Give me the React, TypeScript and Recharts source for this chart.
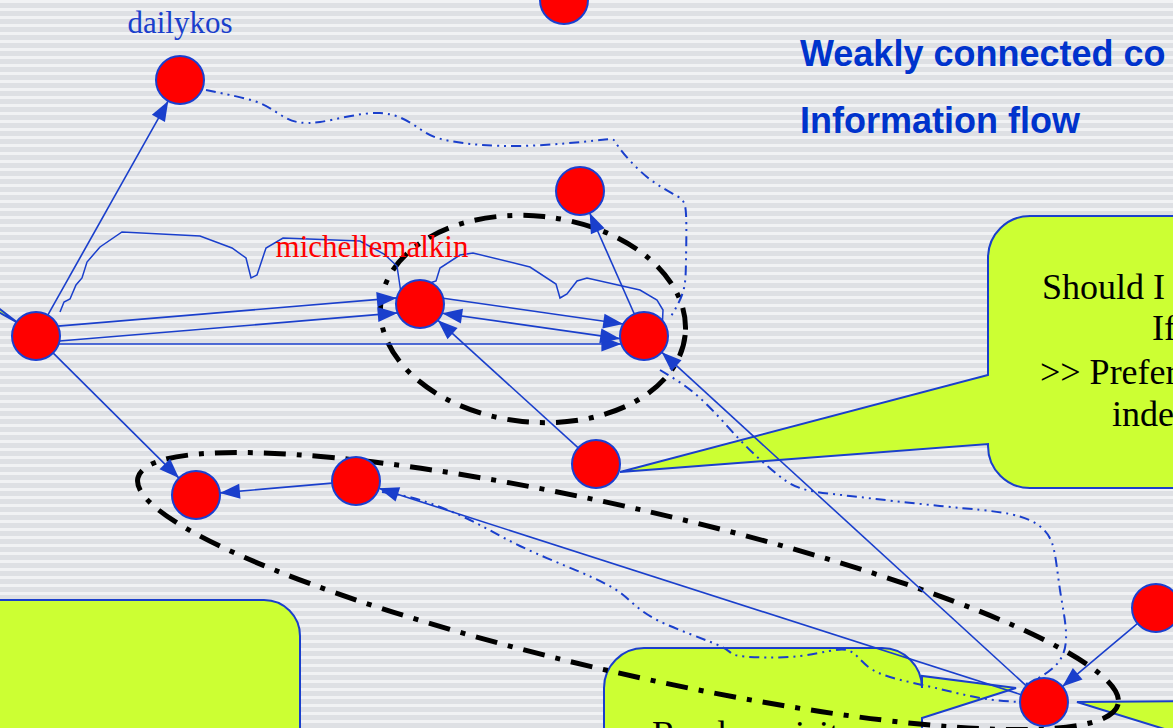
import React from 'react';
import { ScatterChart, Scatter, XAxis, YAxis, ReferenceLine, ReferenceArea, ReferenceDot } from 'recharts';

const W = 1173;
const H = 728;
const BLUE = '#1a3fcc';
const GREEN = '#ccff33';

// blog nodes (x, y in picture units)
const nodes = [
  { id: 'top', x: 564, y: 0 },
  { id: 'dailykos', x: 180, y: 80 },
  { id: 'hub', x: 36, y: 336 },
  { id: 'michellemalkin', x: 420, y: 304 },
  { id: 'a', x: 580, y: 191 },
  { id: 'b', x: 644, y: 336 },
  { id: 'c', x: 596, y: 464 },
  { id: 'd', x: 356, y: 481 },
  { id: 'e', x: 196, y: 495 },
  { id: 'f', x: 1044, y: 702 },
  { id: 'g', x: 1156, y: 608 },
];

// links: from -> to, shift = sideways offset, both = arrow on both ends
const edges = [
  { from: 'hub', to: 'dailykos', shift: 0, both: false },
  { from: 'hub', to: 'michellemalkin', shift: -8, both: false },
  { from: 'hub', to: 'michellemalkin', shift: 7, both: false },
  { from: 'hub', to: 'b', shift: 8, both: false },
  { from: 'hub', to: 'e', shift: 0, both: false },
  { from: 'michellemalkin', to: 'b', shift: -9, both: false },
  { from: 'michellemalkin', to: 'b', shift: 6, both: true },
  { from: 'b', to: 'a', shift: 0, both: false },
  { from: 'c', to: 'michellemalkin', shift: 0, both: false },
  { from: 'd', to: 'e', shift: 0, both: false },
  { from: 'f', to: 'd', shift: 0, both: false },
  { from: 'f', to: 'b', shift: 0, both: false },
  { from: 'g', to: 'f', shift: 0, both: false },
];

// hand-drawn solid links
const hubCurve = [
  { x: 60, y: 312 }, { x: 64, y: 302 }, { x: 70, y: 299 }, { x: 76, y: 285 }, { x: 82, y: 278 },
  { x: 87, y: 262 }, { x: 100, y: 247 }, { x: 122, y: 232 }, { x: 200, y: 236 }, { x: 232, y: 248 },
  { x: 246, y: 258 }, { x: 251, y: 278 }, { x: 257, y: 275 }, { x: 266, y: 248 }, { x: 283, y: 238 },
  { x: 360, y: 241 }, { x: 384, y: 254 }, { x: 397, y: 266 }, { x: 402, y: 300 },
];
const malkinCurve = [
  { x: 423, y: 292 }, { x: 430, y: 283 }, { x: 436, y: 281 }, { x: 440, y: 268 }, { x: 460, y: 255 },
  { x: 473, y: 253 }, { x: 530, y: 267 }, { x: 556, y: 284 }, { x: 560, y: 298 }, { x: 567, y: 294 },
  { x: 577, y: 281 }, { x: 587, y: 278 }, { x: 640, y: 290 }, { x: 657, y: 300 }, { x: 663, y: 310 },
  { x: 662, y: 332 },
];

// dash-dot flow paths
const flowTop = [
  { x: 206, y: 90 }, { x: 230, y: 95 }, { x: 262, y: 104 }, { x: 286, y: 118 }, { x: 320, y: 122 },
  { x: 380, y: 113 }, { x: 420, y: 129 }, { x: 450, y: 141 }, { x: 520, y: 146 }, { x: 600, y: 140 },
  { x: 618, y: 146 }, { x: 647, y: 177 }, { x: 677, y: 196 }, { x: 686, y: 214 }, { x: 686, y: 260 },
  { x: 683, y: 292 }, { x: 670, y: 318 },
];
const flowRight = [
  { x: 660, y: 370 }, { x: 700, y: 398 }, { x: 740, y: 440 }, { x: 772, y: 470 }, { x: 800, y: 488 },
  { x: 850, y: 496 }, { x: 940, y: 506 }, { x: 1010, y: 514 }, { x: 1042, y: 528 }, { x: 1054, y: 550 },
  { x: 1060, y: 590 }, { x: 1066, y: 632 }, { x: 1060, y: 660 }, { x: 1042, y: 676 }, { x: 1026, y: 684 },
];
const flowBottom = [
  { x: 382, y: 492 }, { x: 420, y: 500 }, { x: 470, y: 520 }, { x: 520, y: 546 }, { x: 580, y: 572 },
  { x: 622, y: 594 }, { x: 657, y: 620 }, { x: 720, y: 646 }, { x: 740, y: 656 }, { x: 800, y: 656 },
  { x: 847, y: 650 }, { x: 873, y: 670 }, { x: 927, y: 686 }, { x: 980, y: 698 }, { x: 1020, y: 702 },
];

// callout boxes: rect + optional tail (side, tail top, tail bottom, tip)
const callouts = [
  { x1: 988, x2: 1420, y1: 216, y2: 488, r: 42, side: 'left', ta: 375, tb: 444, tipX: 620, tipY: 472 },
  { x1: -40, x2: 300, y1: 600, y2: 820, r: 36, side: 'none', ta: 0, tb: 0, tipX: 0, tipY: 0 },
  { x1: 604, x2: 922, y1: 648, y2: 820, r: 40, side: 'right', ta: 676, tb: 718, tipX: 1016, tipY: 688 },
  { x1: 1200, x2: 1500, y1: 640, y2: 900, r: 30, side: 'left', ta: 701, tb: 740, tipX: 1077, tipY: 702 },
  { x1: -300, x2: -12, y1: 200, y2: 420, r: 30, side: 'right', ta: 300, tb: 306, tipX: 18, tipY: 323 },
];

// groups (dashed ellipses): centre, radii, tilt
const groups = [
  { cx: 533, cy: 319, rx: 153, ry: 103, tilt: 6 },
  { cx: 628, cy: 591, rx: 503, ry: 82, tilt: 13 },
];

const titles = [
  { text: 'Weakly connected co', x: 800, y: 66 },
  { text: 'Information flow', x: 800, y: 133 },
];
const nodeLabels = [
  { text: 'dailykos', x: 180, y: 33, color: '#1a3fcc' },
  { text: 'michellemalkin', x: 372, y: 257, color: '#ff0000' },
];
const calloutLines = [
  { text: 'Should I', x: 1042, y: 299 },
  { text: 'If', x: 1152, y: 340 },
  { text: '>> Prefer', x: 1040, y: 384 },
  { text: 'inde', x: 1112, y: 426 },
  { text: 'Readers visit', x: 652, y: 746 },
];

const byId = (id: string) => nodes.find((n) => n.id === id)!;
const R = 24;

function makeEdgeShape(shift: number, both: boolean) {
  return (p: any) => {
    const { x1, y1, x2, y2 } = p;
    const dx = x2 - x1;
    const dy = y2 - y1;
    const len = Math.sqrt(dx * dx + dy * dy) || 1;
    const ux = dx / len;
    const uy = dy / len;
    const nx = -uy;
    const ny = ux;
    const inset = Math.sqrt(Math.max(R * R - shift * shift, 0));
    const sx = x1 + nx * shift + ux * inset;
    const sy = y1 + ny * shift + uy * inset;
    const ex = x2 + nx * shift - ux * inset;
    const ey = y2 + ny * shift - uy * inset;
    const head = (tx: number, ty: number, vx: number, vy: number) => {
      const L = 20;
      const hw = 7.5;
      const bx = tx - vx * L;
      const by = ty - vy * L;
      return `${tx},${ty} ${bx - vy * hw},${by + vx * hw} ${bx + vy * hw},${by - vx * hw}`;
    };
    return (
      <g>
        <line x1={sx} y1={sy} x2={ex} y2={ey} stroke={BLUE} strokeWidth={1.6} />
        <polygon points={head(ex, ey, ux, uy)} fill={BLUE} />
        {both && <polygon points={head(sx, sy, -ux, -uy)} fill={BLUE} />}
      </g>
    );
  };
}

function makeCalloutShape(c: typeof callouts[number]) {
  return (p: any) => {
    const { x, y, width, height } = p;
    const kx = width / (c.x2 - c.x1);
    const ky = height / (c.y2 - c.y1);
    const px = (v: number) => x + (v - c.x1) * kx;
    const py = (v: number) => y + (v - c.y1) * ky;
    const r = c.r * kx;
    const right = x + width;
    const bottom = y + height;
    let d = `M${x + r},${y} H${right - r} A${r},${r} 0 0 1 ${right},${y + r}`;
    if (c.side === 'right') d += ` V${py(c.ta)} L${px(c.tipX)},${py(c.tipY)} L${right},${py(c.tb)}`;
    d += ` V${bottom - r} A${r},${r} 0 0 1 ${right - r},${bottom} H${x + r} A${r},${r} 0 0 1 ${x},${bottom - r}`;
    if (c.side === 'left') d += ` V${py(c.tb)} L${px(c.tipX)},${py(c.tipY)} L${x},${py(c.ta)}`;
    d += ` V${y + r} A${r},${r} 0 0 1 ${x + r},${y} Z`;
    return <path d={d} fill={GREEN} stroke={BLUE} strokeWidth={2} />;
  };
}

function makeGroupShape(tilt: number) {
  return (p: any) => {
    const cx = p.x + p.width / 2;
    const cy = p.y + p.height / 2;
    return (
      <ellipse
        cx={cx}
        cy={cy}
        rx={p.width / 2}
        ry={p.height / 2}
        transform={`rotate(${tilt} ${cx} ${cy})`}
        fill="none"
        stroke="#000"
        strokeWidth={5}
        strokeDasharray="22 11 5 11"
      />
    );
  };
}

const NodeShape = (p: any) => (
  <circle cx={p.cx} cy={p.cy} r={R} fill="#ff0000" stroke="#1a3fd0" strokeWidth={2} />
);
const NoShape = () => <g />;

const solidLine = { stroke: BLUE, strokeWidth: 1.5, fill: 'none' };
const flowLine = { stroke: BLUE, strokeWidth: 2, fill: 'none', strokeDasharray: '10 5 2 5 2 5' };

export default function App() {
  return (
    <div
      style={{
        position: 'fixed',
        left: 0,
        top: 0,
        width: W,
        height: H,
        overflow: 'hidden',
        background:
          'repeating-linear-gradient(to bottom, #f1f2f4 0px, #f1f2f4 3px, #dee0e4 3px, #dee0e4 8px)',
      }}
    >
      <ScatterChart width={W} height={H} margin={{ top: 0, right: 0, bottom: 0, left: 0 }}>
        <XAxis type="number" dataKey="x" domain={[0, W]} allowDataOverflow hide />
        <YAxis type="number" dataKey="y" domain={[0, H]} reversed allowDataOverflow hide />

        {callouts.map((c, i) => (
          <ReferenceArea
            key={`c${i}`}
            x1={c.x1}
            x2={c.x2}
            y1={c.y1}
            y2={c.y2}
            ifOverflow="visible"
            shape={makeCalloutShape(c)}
          />
        ))}

        <Scatter data={hubCurve} line={solidLine} lineType="joint" lineJointType="linear" shape={NoShape} isAnimationActive={false} />
        <Scatter data={malkinCurve} line={solidLine} lineType="joint" lineJointType="linear" shape={NoShape} isAnimationActive={false} />
        <Scatter data={flowTop} line={flowLine} lineType="joint" lineJointType="natural" shape={NoShape} isAnimationActive={false} />
        <Scatter data={flowRight} line={flowLine} lineType="joint" lineJointType="natural" shape={NoShape} isAnimationActive={false} />
        <Scatter data={flowBottom} line={flowLine} lineType="joint" lineJointType="natural" shape={NoShape} isAnimationActive={false} />

        {edges.map((e, i) => {
          const a = byId(e.from);
          const b = byId(e.to);
          return (
            <ReferenceLine
              key={`e${i}`}
              segment={[{ x: a.x, y: a.y }, { x: b.x, y: b.y }]}
              ifOverflow="visible"
              shape={makeEdgeShape(e.shift, e.both)}
            />
          );
        })}

        {groups.map((g, i) => (
          <ReferenceArea
            key={`g${i}`}
            x1={g.cx - g.rx}
            x2={g.cx + g.rx}
            y1={g.cy - g.ry}
            y2={g.cy + g.ry}
            ifOverflow="visible"
            shape={makeGroupShape(g.tilt)}
          />
        ))}

        <Scatter data={nodes} shape={NodeShape} isAnimationActive={false} />

        {titles.map((t, i) => (
          <ReferenceDot
            key={`t${i}`}
            x={t.x}
            y={t.y}
            r={0}
            ifOverflow="visible"
            shape={(p: any) => (
              <text x={p.cx} y={p.cy} fill="#0033cc" fontFamily="Liberation Sans, Arial, sans-serif" fontWeight="bold" fontSize={36}>
                {t.text}
              </text>
            )}
          />
        ))}
        {nodeLabels.map((t, i) => (
          <ReferenceDot
            key={`n${i}`}
            x={t.x}
            y={t.y}
            r={0}
            ifOverflow="visible"
            shape={(p: any) => (
              <text x={p.cx} y={p.cy} fill={t.color} textAnchor="middle" fontFamily="Liberation Serif, Times New Roman, serif" fontSize={31}>
                {t.text}
              </text>
            )}
          />
        ))}
        {calloutLines.map((t, i) => (
          <ReferenceDot
            key={`l${i}`}
            x={t.x}
            y={t.y}
            r={0}
            ifOverflow="visible"
            shape={(p: any) => (
              <text x={p.cx} y={p.cy} fill="#000" fontFamily="Liberation Serif, Times New Roman, serif" fontSize={36}>
                {t.text}
              </text>
            )}
          />
        ))}
      </ScatterChart>
    </div>
  );
}
